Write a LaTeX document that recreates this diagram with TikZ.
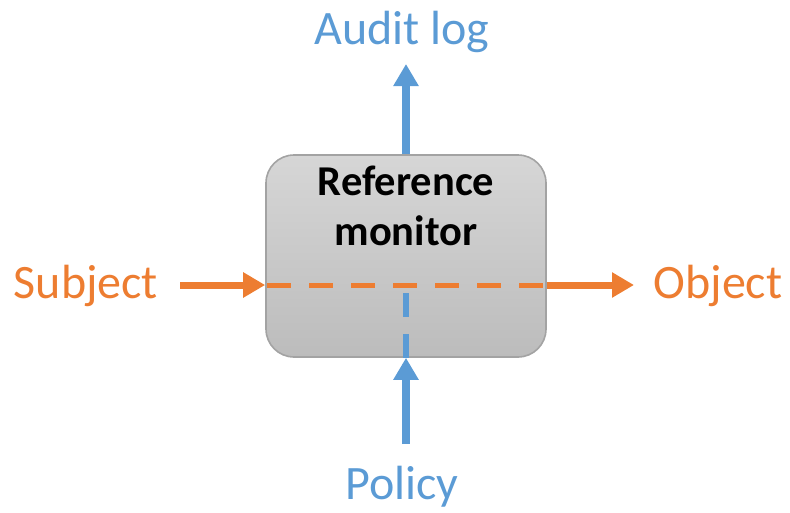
\documentclass[tikz,border=0pt]{standalone}
\usepackage{fontspec}
\setmainfont{Carlito}
\usetikzlibrary{arrows.meta}
\definecolor{flowor}{HTML}{ED7D31}
\definecolor{flowbl}{HTML}{5B9BD5}
\definecolor{boxtop}{HTML}{D6D6D6}
\definecolor{boxbot}{HTML}{BCBCBC}
\definecolor{boxedge}{HTML}{A3A3A3}
\tikzset{
  x=1pt, y=-1pt,
  monitorbox/.style={draw=boxedge, line width=1.6pt, rounded corners=28pt,
    top color=boxtop, bottom color=boxbot,
    minimum width=280pt, minimum height=202pt, inner sep=0pt},
  monitortext/.style={font=\fontsize{42.5}{50}\selectfont\bfseries, text=black,
    anchor=base, inner sep=0pt},
  orlabel/.style={font=\fontsize{48}{57}\selectfont, text=flowor, anchor=base, inner sep=0pt},
  bllabel/.style={font=\fontsize{48}{57}\selectfont, text=flowbl, anchor=base, inner sep=0pt},
  tip/.style={-{Triangle[width=24pt,length=22pt]}},
  orflow/.style={draw=flowor, line width=7pt, tip},
  blflow/.style={draw=flowbl, line width=7.5pt, tip},
  ordash/.style={draw=flowor, line width=5pt, dash pattern=on 24pt off 18pt},
  bldash/.style={draw=flowbl, line width=5.5pt, dash pattern=on 24pt off 17pt},
}
\begin{document}
\begin{tikzpicture}
  \useasboundingbox (0,0) rectangle (790,512);

  % the monitor
  \node[monitorbox] (rm) at (406,256) {};
  \node[monitortext] (rmline1) at (406,195) {Reference};
  \node[monitortext] (rmline2) at (406,245) {monitor};

  % end labels
  \node[orlabel] (subj) at (86,298) {Subject};
  \node[orlabel] (obj) at (718,298) {Object};
  \node[bllabel] (audit) at (402,44) {Audit log};
  \node[bllabel] (policy) at (402,499) {Policy};

  % points on the flow lines
  \coordinate (cross) at (406,285);
  \coordinate (sstart) at (180,285);
  \coordinate (oend) at (634,285);
  \coordinate (aend) at (406,64);
  \coordinate (pstart) at (406,444);

  % orange subject-to-object flow
  \draw[orflow] (sstart) -- (rm.west |- cross);
  \draw[ordash, dash phase=-2pt] (rm.west |- cross) -- (rm.east |- cross);
  \draw[orflow] (rm.east |- cross) -- (oend);

  % blue policy-to-audit flow
  \draw[blflow] (pstart) -- (rm.south -| cross);
  \draw[bldash] (rm.south -| cross) -- ([yshift=-7pt]cross);
  \draw[blflow] (rm.north -| cross) -- (aend);
\end{tikzpicture}
\end{document}
